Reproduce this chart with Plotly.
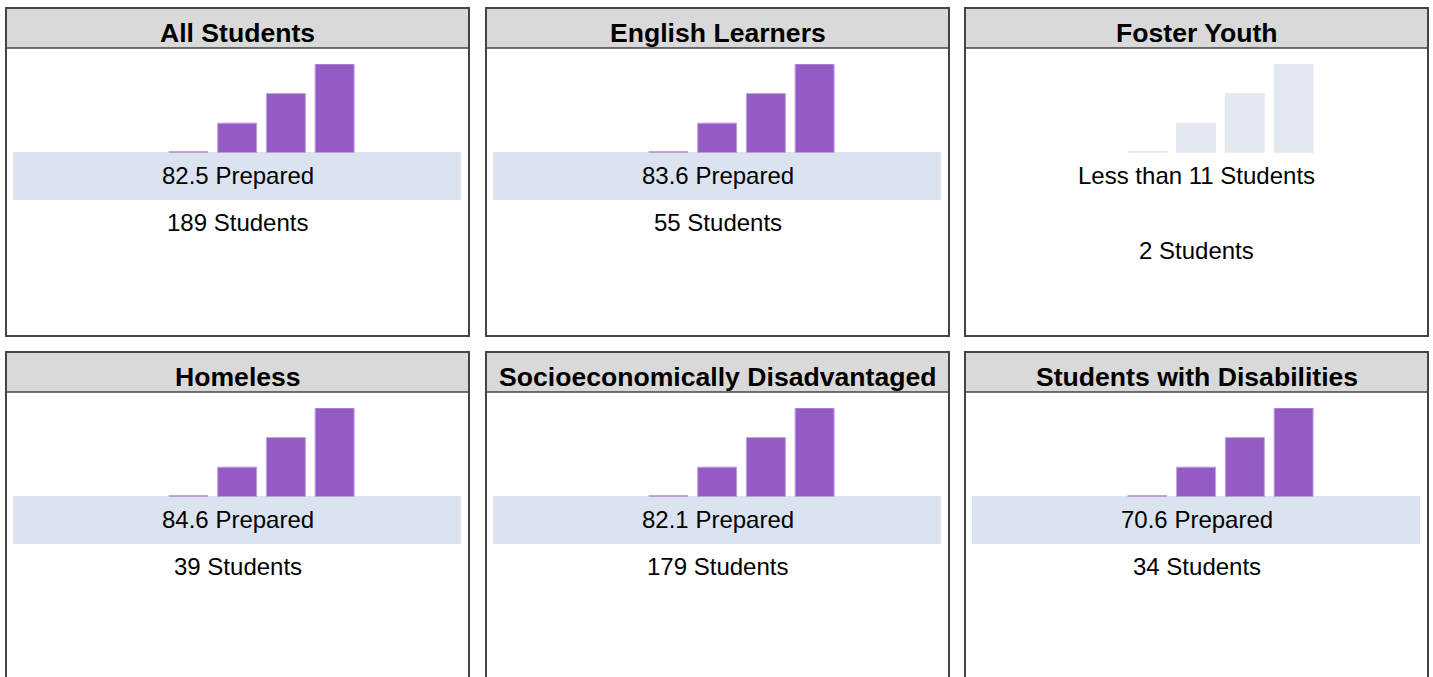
import plotly.graph_objects as go

# ---------------- data ----------------
groups = ["All Students", "English Learners", "Foster Youth",
          "Homeless", "Socioeconomically Disadvantaged", "Students with Disabilities"]
prepared = [82.5, 83.6, None, 84.6, 82.1, 70.6]
students = [189, 55, 2, 39, 179, 34]
suppressed_text = "Less than 11 Students"
level_x = [0, 1, 2, 3]
level_heights = [0.04, 1, 2, 3]

# ---------------- layout constants ----------------
W, H = 1433, 677
PANEL_LEFT = [6, 486, 965]
PANEL_TOP = [8, 352]
PANEL_W, PANEL_H = 463, 328
HEADER_H = 40
PURPLE = "#955bc4"
PURPLE_EDGE = "#c3a2df"
GREY_BAR = "#e4e9f1"
BAND = "#dae3ef"
BORDER = "#444444"
FONT = "Liberation Sans, Arial, sans-serif"


def px(x):
    return x / W


def py(y):
    return 1 - y / H


fig = go.Figure()
shapes = []
annotations = []
layout_axes = {}

for i, name in enumerate(groups):
    col, row = i % 3, i // 3
    L = PANEL_LEFT[col]
    T = PANEL_TOP[row]
    R = L + PANEL_W
    B = T + PANEL_H if row == 0 else H + 20
    cx = (L + R) / 2
    suppressed = prepared[i] is None

    # bars (icon)
    n = i + 1
    xa = "x" if n == 1 else f"x{n}"
    ya = "y" if n == 1 else f"y{n}"
    fig.add_trace(go.Bar(
        x=level_x, y=level_heights, xaxis=xa, yaxis=ya,
        marker=dict(color=GREY_BAR if suppressed else PURPLE,
                    line=dict(color=GREY_BAR if suppressed else PURPLE_EDGE, width=1)),
        showlegend=False, hoverinfo="skip",
    ))
    bx0 = L + 158
    bx1 = L + 353
    by_bottom = T + 144.7
    by_top = T + 56
    layout_axes["xaxis" if n == 1 else f"xaxis{n}"] = dict(
        domain=[px(bx0), px(bx1)], range=[-0.5, 3.5], visible=False,
        fixedrange=True, anchor=ya)
    layout_axes["yaxis" if n == 1 else f"yaxis{n}"] = dict(
        domain=[py(by_bottom), py(by_top)], range=[0, 3], visible=False,
        fixedrange=True, anchor=xa)

    # header
    shapes.append(dict(type="rect", xref="paper", yref="paper",
                       x0=px(L), x1=px(R), y0=py(T + HEADER_H), y1=py(T),
                       fillcolor="#d9d9d9", line=dict(color=BORDER, width=1.5),
                       layer="below"))
    # outer border
    shapes.append(dict(type="rect", xref="paper", yref="paper",
                       x0=px(L), x1=px(R), y0=py(B), y1=py(T),
                       fillcolor="rgba(0,0,0,0)", line=dict(color=BORDER, width=2),
                       layer="above"))
    annotations.append(dict(text=f"<b>{name}</b>", x=px(cx), y=py(T + 24.5),
                            xref="paper", yref="paper", showarrow=False,
                            xanchor="center", yanchor="middle",
                            font=dict(family=FONT, size=26.6, color="black")))

    if suppressed:
        annotations.append(dict(text=suppressed_text, x=px(cx), y=py(T + 167),
                                xref="paper", yref="paper", showarrow=False,
                                xanchor="center", yanchor="middle",
                                font=dict(family=FONT, size=24, color="black")))
        annotations.append(dict(text=f"{students[i]} Students", x=px(cx), y=py(T + 242),
                                xref="paper", yref="paper", showarrow=False,
                                xanchor="center", yanchor="middle",
                                font=dict(family=FONT, size=24, color="black")))
    else:
        shapes.append(dict(type="rect", xref="paper", yref="paper",
                           x0=px(L + 7), x1=px(R - 8), y0=py(T + 192), y1=py(T + 144),
                           fillcolor=BAND, line=dict(width=0), layer="below"))
        annotations.append(dict(text=f"{prepared[i]} Prepared", x=px(cx), y=py(T + 167),
                                xref="paper", yref="paper", showarrow=False,
                                xanchor="center", yanchor="middle",
                                font=dict(family=FONT, size=24, color="black")))
        annotations.append(dict(text=f"{students[i]} Students", x=px(cx), y=py(T + 214),
                                xref="paper", yref="paper", showarrow=False,
                                xanchor="center", yanchor="middle",
                                font=dict(family=FONT, size=24, color="black")))

fig.update_layout(
    width=W, height=H, autosize=False,
    margin=dict(l=0, r=0, t=0, b=0),
    paper_bgcolor="white", plot_bgcolor="rgba(0,0,0,0)",
    bargap=0.2, shapes=shapes, annotations=annotations,
    **layout_axes,
)

fig.write_html("out.html", config={"displayModeBar": False},
               post_script="document.body.style.margin='0';document.body.style.overflow='hidden';")
